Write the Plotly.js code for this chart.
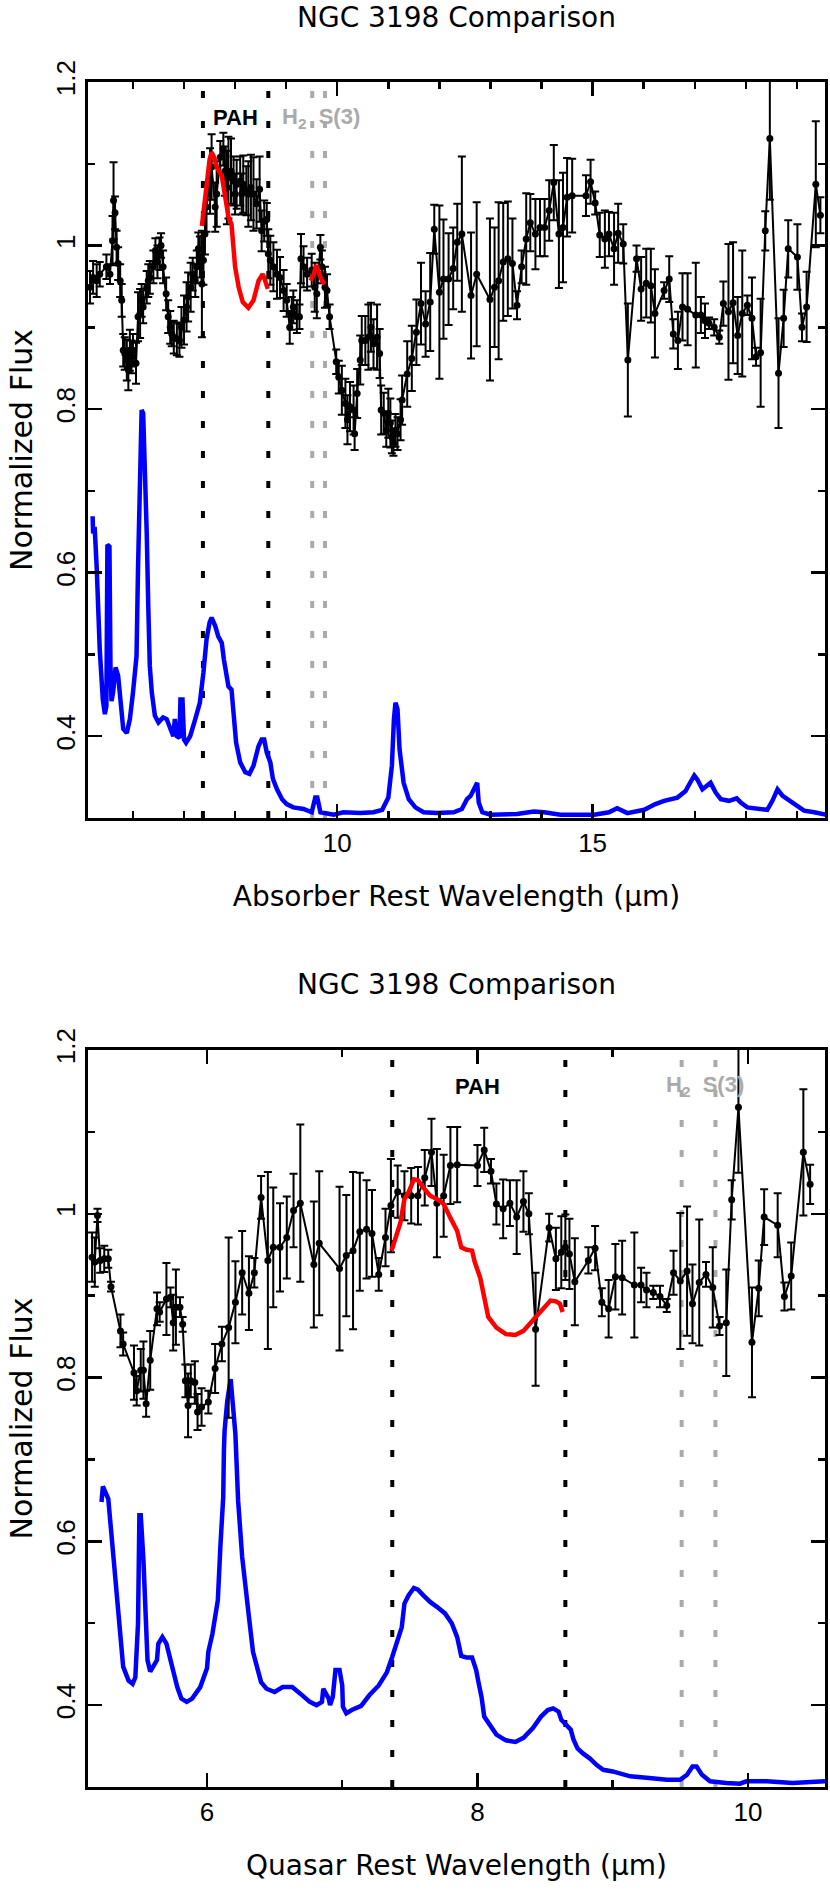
<!DOCTYPE html>
<html>
<head>
<meta charset="utf-8">
<script src="https://cdn.plot.ly/plotly-3.0.1.min.js"></script>
<style>html,body{margin:0;padding:0;background:#fff;}#chart{width:830px;height:1891px;}</style>
</head>
<body>
<div id="chart"></div>
<script>
// ---------- Top panel: absorber rest frame ----------
var absWave = [5.16,5.22,5.29,5.35,5.48,5.55,5.60,5.62,5.65,5.68,5.71,5.75,5.78,5.81,5.84,5.88,5.91,5.94,5.97,6.00,6.06,6.10,6.14,6.17,6.20,6.27,6.30,6.33,6.40,6.44,6.48,6.52,6.55,6.59,6.65,6.69,6.73,6.76,6.80,6.86,6.91,6.95,7.00,7.05,7.08,7.13,7.17,7.22,7.25,7.28,7.31,7.35,7.38,7.41,7.44,7.51,7.54,7.61,7.64,7.71,7.77,7.80,7.84,7.87,7.92,7.97,8.00,8.03,8.10,8.13,8.16,8.22,8.26,8.31,8.36,8.42,8.48,8.52,8.57,8.62,8.65,8.69,8.75,8.82,8.88,8.95,9.01,9.07,9.11,9.14,9.21,9.26,9.29,9.34,9.41,9.50,9.56,9.60,9.67,9.70,9.76,9.80,9.85,9.98,10.03,10.09,10.16,10.20,10.25,10.32,10.34,10.39,10.45,10.48,10.55,10.61,10.66,10.71,10.78,10.83,10.86,10.91,10.96,11.00,11.04,11.07,11.10,11.14,11.18,11.24,11.27,11.37,11.46,11.55,11.64,11.73,11.82,11.90,12.00,12.08,12.18,12.27,12.35,12.44,12.62,12.73,12.99,13.08,13.16,13.25,13.34,13.43,13.52,13.61,13.70,13.78,13.88,13.97,14.06,14.15,14.24,14.34,14.42,14.50,14.60,14.87,14.96,15.05,15.14,15.24,15.32,15.42,15.50,15.60,15.69,15.86,15.95,16.05,16.14,16.22,16.40,16.50,16.58,16.67,16.76,16.86,17.02,17.12,17.20,17.28,17.38,17.48,17.56,17.66,17.75,17.84,17.93,18.03,18.12,18.20,18.29,18.38,18.47,18.64,18.74,18.83,19.01,19.10,19.19,19.37,19.46];
var absFlux = [0.949,0.961,0.957,0.965,0.974,0.965,1.006,1.055,1.040,0.998,0.978,0.957,0.933,0.872,0.868,0.860,0.848,0.872,0.864,0.872,0.856,0.913,0.917,0.933,0.925,0.949,0.957,0.961,0.974,0.994,0.980,0.990,1.000,0.974,0.941,0.913,0.900,0.892,0.888,0.886,0.884,0.900,0.909,0.925,0.937,0.949,0.965,0.957,0.974,0.996,0.986,0.953,0.982,1.014,1.047,1.079,1.096,1.047,1.063,1.108,1.118,1.091,1.071,1.083,1.091,1.079,1.063,1.075,1.079,1.063,1.075,1.067,1.063,1.071,1.063,1.051,1.069,1.018,1.030,1.032,0.990,0.982,0.974,0.965,0.961,0.945,0.933,0.900,0.917,0.925,0.913,0.913,0.984,0.974,0.965,0.970,0.949,0.941,0.998,0.974,0.949,0.945,0.913,0.858,0.839,0.823,0.807,0.787,0.803,0.799,0.770,0.819,0.860,0.884,0.884,0.888,0.900,0.880,0.888,0.868,0.799,0.795,0.774,0.795,0.783,0.766,0.758,0.774,0.770,0.787,0.811,0.843,0.862,0.894,0.929,0.904,0.931,1.020,0.943,0.959,0.959,0.972,1.004,1.014,0.939,0.965,0.934,0.949,0.957,0.980,0.984,0.978,0.927,0.974,1.008,1.028,1.014,1.022,1.022,1.043,1.077,1.014,1.022,1.059,1.061,1.061,1.078,1.052,1.013,1.008,1.014,0.996,1.015,1.002,0.860,0.984,0.947,0.954,0.951,0.917,0.945,0.959,0.892,0.884,0.925,0.922,0.915,0.915,0.908,0.905,0.900,0.888,0.929,0.919,0.930,0.890,0.917,0.927,0.911,0.864,0.869,1.018,1.131,0.844,0.911,0.996,0.986,0.900,0.925,1.075,1.037];
var absErr = [0.02,0.02,0.02,0.015,0.015,0.012,0.03,0.047,0.02,0.02,0.02,0.02,0.02,0.02,0.02,0.025,0.025,0.025,0.02,0.02,0.025,0.03,0.03,0.02,0.02,0.02,0.02,0.02,0.02,0.015,0.02,0.02,0.015,0.02,0.02,0.02,0.02,0.015,0.02,0.02,0.02,0.025,0.03,0.03,0.03,0.03,0.02,0.02,0.02,0.02,0.025,0.065,0.03,0.025,0.03,0.04,0.04,0.03,0.04,0.02,0.02,0.03,0.045,0.05,0.04,0.03,0.025,0.03,0.03,0.025,0.035,0.03,0.04,0.04,0.045,0.03,0.04,0.025,0.025,0.02,0.03,0.03,0.03,0.03,0.025,0.025,0.02,0.02,0.02,0.02,0.02,0.015,0.03,0.025,0.02,0.02,0.03,0.03,0.015,0.02,0.025,0.02,0.015,0.015,0.02,0.03,0.03,0.03,0.03,0.03,0.02,0.03,0.03,0.03,0.03,0.04,0.03,0.03,0.04,0.03,0.03,0.025,0.02,0.03,0.03,0.02,0.015,0.02,0.02,0.025,0.03,0.04,0.04,0.04,0.05,0.04,0.06,0.03,0.106,0.073,0.056,0.05,0.047,0.095,0.077,0.088,0.099,0.073,0.096,0.072,0.07,0.055,0.017,0.02,0.056,0.035,0.043,0.035,0.035,0.037,0.046,0.066,0.067,0.048,0.045,0.025,0.027,0.014,0.027,0.035,0.027,0.044,0.036,0.024,0.069,0.016,0.039,0.042,0.045,0.054,0.01,0.028,0.018,0.035,0.041,0.044,0.064,0.022,0.021,0.007,0.01,0.008,0.027,0.083,0.074,0.047,0.077,0.012,0.05,0.011,0.066,0.024,0.075,0.067,0.035,0.035,0.04,0.017,0.043,0.077,0.022];

var absFitWave = [7.35,7.40,7.45,7.50,7.54,7.59,7.64,7.69,7.74,7.80,7.87,7.93,7.97,8.00,8.07,8.15,8.26,8.36,8.46,8.54,8.59,8.64,null,9.48,9.54,9.59,9.65,9.70,9.76];
var absFitFlux = [1.024,1.055,1.085,1.105,1.114,1.108,1.096,1.090,1.085,1.062,1.035,1.026,0.998,0.974,0.949,0.931,0.924,0.933,0.957,0.965,0.957,0.947,null,0.957,0.965,0.976,0.965,0.957,0.953];

var tplAbsWave = [5.21,5.22,5.25,5.29,5.35,5.41,5.45,5.48,5.50,5.54,5.56,5.58,5.61,5.66,5.71,5.75,5.81,5.88,5.94,6.00,6.07,6.10,6.14,6.17,6.20,6.24,6.27,6.30,6.33,6.37,6.43,6.50,6.59,6.66,6.73,6.79,6.82,6.86,6.91,6.93,6.97,7.00,7.04,7.12,7.22,7.31,7.38,7.44,7.50,7.54,7.61,7.67,7.74,7.78,7.87,7.93,7.98,8.02,8.10,8.20,8.28,8.36,8.46,8.52,8.57,8.62,8.69,8.74,8.82,8.92,9.01,9.14,9.34,9.50,9.57,9.61,9.67,9.80,9.93,10.12,10.45,10.71,10.88,11.00,11.07,11.11,11.14,11.18,11.22,11.30,11.40,11.53,11.69,11.95,12.28,12.44,12.54,12.61,12.69,12.74,12.77,12.84,13.00,13.52,13.85,14.05,14.37,15.03,15.32,15.48,15.68,16.01,16.23,16.40,16.66,16.82,16.89,16.99,17.05,17.15,17.31,17.41,17.51,17.67,17.82,17.90,18.03,18.26,18.42,18.52,18.62,18.72,18.85,19.01,19.14,19.34,19.57];
var tplAbsFlux = [0.669,0.648,0.656,0.607,0.506,0.445,0.427,0.437,0.634,0.632,0.486,0.443,0.453,0.484,0.474,0.445,0.409,0.404,0.421,0.453,0.498,0.607,0.717,0.799,0.795,0.730,0.648,0.559,0.486,0.453,0.425,0.417,0.423,0.421,0.409,0.400,0.421,0.400,0.398,0.445,0.445,0.396,0.392,0.400,0.421,0.441,0.478,0.518,0.539,0.545,0.535,0.522,0.514,0.494,0.461,0.457,0.421,0.392,0.368,0.356,0.354,0.364,0.388,0.396,0.396,0.380,0.368,0.348,0.335,0.323,0.317,0.313,0.311,0.307,0.325,0.325,0.307,0.305,0.304,0.307,0.306,0.307,0.310,0.325,0.364,0.421,0.441,0.433,0.384,0.343,0.323,0.313,0.307,0.306,0.307,0.311,0.323,0.327,0.339,0.343,0.319,0.307,0.304,0.305,0.308,0.307,0.304,0.304,0.307,0.312,0.306,0.310,0.317,0.321,0.325,0.333,0.341,0.352,0.347,0.335,0.343,0.331,0.323,0.321,0.324,0.319,0.313,0.311,0.310,0.321,0.335,0.327,0.321,0.315,0.309,0.307,0.304];

// ---------- Bottom panel: quasar rest frame ----------
var qsoWave = [5.15,5.17,5.19,5.21,5.24,5.27,5.29,5.36,5.38,5.46,5.48,5.51,5.53,5.55,5.58,5.63,5.65,5.70,5.73,5.75,5.77,5.80,5.82,5.84,5.86,5.88,5.91,5.93,5.96,6.01,6.06,6.11,6.16,6.21,6.26,6.31,6.35,6.40,6.45,6.49,6.54,6.59,6.64,6.69,6.79,6.83,6.98,7.03,7.08,7.13,7.18,7.22,7.27,7.32,7.36,7.41,7.46,7.51,7.56,7.61,7.66,7.70,7.75,7.80,7.85,8.00,8.05,8.10,8.14,8.19,8.24,8.29,8.34,8.38,8.43,8.53,8.58,8.62,8.65,8.68,8.72,8.82,8.87,8.92,8.97,9.02,9.07,9.16,9.21,9.25,9.30,9.35,9.40,9.45,9.50,9.55,9.59,9.64,9.69,9.74,9.79,9.84,9.88,9.93,10.03,10.08,10.12,10.22,10.27,10.32,10.41,10.46];
var qsoFlux = [0.947,0.941,0.998,0.943,0.945,0.945,0.911,0.857,0.841,0.806,0.784,0.809,0.809,0.768,0.821,0.884,0.880,0.896,0.898,0.867,0.886,0.886,0.865,0.796,0.766,0.796,0.794,0.758,0.764,0.770,0.811,0.841,0.861,0.892,0.928,0.903,0.928,1.020,0.943,0.959,0.959,0.971,1.004,1.013,0.938,0.964,0.933,0.949,0.955,0.978,0.981,0.976,0.926,0.971,1.010,1.027,1.022,1.022,1.022,1.044,1.075,1.013,1.022,1.059,1.060,1.059,1.078,1.052,1.012,1.006,1.013,0.996,1.015,1.000,0.859,0.983,0.945,0.953,0.959,0.951,0.917,0.943,0.958,0.892,0.884,0.923,0.922,0.913,0.913,0.907,0.904,0.899,0.888,0.928,0.918,0.930,0.890,0.916,0.926,0.910,0.863,0.867,1.017,1.130,0.843,0.909,0.996,0.986,0.899,0.924,1.075,1.036];
var qsoErr = [0.03,0.03,0.008,0.015,0.016,0.011,0.006,0.02,0.014,0.033,0.018,0.026,0.035,0.016,0.036,0.02,0.012,0.044,0.012,0.034,0.046,0.012,0.009,0.02,0.039,0.02,0.026,0.022,0.023,0.014,0.03,0.021,0.11,0.05,0.051,0.045,0.018,0.026,0.108,0.073,0.054,0.05,0.045,0.096,0.077,0.088,0.1,0.074,0.096,0.072,0.06,0.053,0.02,0.035,0.057,0.032,0.03,0.034,0.035,0.034,0.041,0.066,0.05,0.047,0.046,0.025,0.027,0.015,0.025,0.036,0.028,0.045,0.037,0.025,0.069,0.017,0.038,0.044,0.04,0.043,0.053,0.016,0.027,0.017,0.035,0.04,0.045,0.064,0.021,0.021,0.008,0.013,0.008,0.027,0.083,0.079,0.048,0.077,0.015,0.049,0.011,0.065,0.024,0.08,0.067,0.034,0.034,0.039,0.017,0.041,0.077,0.024];

var qsoFitWave = [7.365,7.39,7.43,7.46,7.49,7.53,7.56,7.60,7.65,7.70,7.75,7.80,7.85,7.88,7.92,7.96,7.98,8.02,8.03,8.06,8.08,8.14,8.21,8.28,8.34,8.41,8.49,8.54,8.58,8.61,8.63];
var qsoFitFlux = [0.955,0.969,0.989,1.018,1.026,1.042,1.041,1.032,1.022,1.018,1.012,0.995,0.979,0.959,0.956,0.955,0.941,0.922,0.914,0.886,0.874,0.861,0.853,0.852,0.857,0.870,0.886,0.894,0.893,0.890,0.880];

var tplQsoWave = [5.22,5.23,5.27,5.31,5.34,5.38,5.42,5.45,5.47,5.49,5.50,5.51,5.53,5.55,5.56,5.58,5.63,5.64,5.67,5.70,5.74,5.78,5.81,5.85,5.89,5.95,6.00,6.01,6.04,6.06,6.08,6.10,6.12,6.125,6.13,6.15,6.175,6.21,6.23,6.26,6.28,6.31,6.34,6.37,6.40,6.44,6.50,6.56,6.63,6.69,6.76,6.81,6.85,6.86,6.90,6.91,6.93,6.95,6.98,7.00,7.005,7.03,7.07,7.14,7.20,7.27,7.33,7.37,7.40,7.44,7.46,7.49,7.53,7.56,7.60,7.65,7.70,7.76,7.81,7.85,7.88,7.92,7.96,7.99,8.01,8.03,8.05,8.08,8.14,8.21,8.28,8.34,8.41,8.47,8.52,8.56,8.60,8.62,8.66,8.69,8.71,8.74,8.78,8.83,8.88,8.93,9.00,9.13,9.27,9.40,9.50,9.55,9.59,9.62,9.66,9.72,9.84,9.94,9.99,10.14,10.33,10.57];
var tplQsoFlux = [0.648,0.667,0.652,0.577,0.508,0.447,0.430,0.426,0.434,0.500,0.632,0.632,0.577,0.487,0.455,0.441,0.455,0.475,0.483,0.475,0.447,0.422,0.408,0.404,0.408,0.422,0.445,0.465,0.487,0.512,0.528,0.597,0.654,0.711,0.735,0.772,0.798,0.731,0.650,0.581,0.548,0.508,0.465,0.447,0.428,0.420,0.416,0.422,0.422,0.414,0.404,0.400,0.404,0.420,0.408,0.400,0.410,0.443,0.443,0.424,0.398,0.390,0.394,0.399,0.412,0.424,0.440,0.459,0.475,0.495,0.524,0.534,0.543,0.541,0.534,0.526,0.520,0.512,0.500,0.483,0.460,0.458,0.458,0.443,0.426,0.410,0.386,0.378,0.364,0.357,0.355,0.360,0.372,0.386,0.394,0.396,0.392,0.382,0.376,0.370,0.358,0.347,0.341,0.335,0.327,0.321,0.319,0.313,0.311,0.309,0.309,0.315,0.325,0.325,0.315,0.307,0.305,0.304,0.307,0.307,0.305,0.307];

// feature markers (wavelengths in micron)
var pahLines = [7.37, 8.65];
var h2Lines = [9.51, 9.76];
var panelTitle = 'NGC 3198 Comparison';
var yTicks = [0.4, 0.6, 0.8, 1, 1.2];

// ---------- build ----------
var FONT = 'Liberation Sans, Arial, sans-serif';
var TFONT = 'DejaVu Sans, sans-serif';

function dataTrace(x, y, e, xa, ya) {
  return {x: x, y: y, xaxis: xa, yaxis: ya, type: 'scatter', mode: 'lines+markers',
    line: {color: '#000', width: 2}, marker: {color: '#000', size: 7},
    error_y: {type: 'data', array: e, visible: true, color: '#000', thickness: 2, width: 4},
    showlegend: false, hoverinfo: 'x+y'};
}
function lineTrace(x, y, color, xa, ya) {
  return {x: x, y: y, xaxis: xa, yaxis: ya, type: 'scatter', mode: 'lines',
    line: {color: color, width: 4.5}, connectgaps: false, showlegend: false};
}

var traces = [
  lineTrace(tplAbsWave, tplAbsFlux, '#0000ff', 'x', 'y'),
  dataTrace(absWave, absFlux, absErr, 'x', 'y'),
  lineTrace(absFitWave, absFitFlux, '#ff0000', 'x', 'y'),
  lineTrace(tplQsoWave, tplQsoFlux, '#0000ff', 'x2', 'y2'),
  dataTrace(qsoWave, qsoFlux, qsoErr, 'x2', 'y2'),
  lineTrace(qsoFitWave, qsoFitFlux, '#ff0000', 'x2', 'y2')
];

var shapes = [];
[['x', 'y'], ['x2', 'y2']].forEach(function (ax) {
  pahLines.forEach(function (w) {
    shapes.push({type: 'line', xref: ax[0], yref: ax[1] + ' domain', x0: w, x1: w, y0: 0, y1: 1,
      line: {color: '#000', width: 4, dash: '7px,23px'}, layer: 'below'});
  });
  h2Lines.forEach(function (w) {
    shapes.push({type: 'line', xref: ax[0], yref: ax[1] + ' domain', x0: w, x1: w, y0: 0, y1: 1,
      line: {color: '#aaaaaa', width: 4, dash: '7px,23px'}, layer: 'below'});
  });
});

function xAxis(range, dtick, title, anchor) {
  return {range: range, domain: [0, 1], anchor: anchor, dtick: dtick, tick0: 0,
    ticks: 'inside', ticklen: 14, tickwidth: 2.5, tickcolor: '#000',
    minor: {dtick: 1, ticks: 'inside', ticklen: 7, tickwidth: 2.5, tickcolor: '#000', showgrid: false},
    showline: true, linewidth: 3, linecolor: '#000', mirror: 'allticks',
    showgrid: false, zeroline: false,
    tickfont: {family: FONT, size: 26, color: '#000'},
    title: {text: title, font: {family: TFONT, size: 28, color: '#000'}, standoff: 30}};
}
function yAxis(domain, anchor) {
  return {range: [0.3, 1.2], domain: domain, anchor: anchor, tickvals: yTicks, ticktext: yTicks.map(String),
    ticks: 'inside', ticklen: 14, tickwidth: 2.5, tickcolor: '#000', tickangle: -90,
    minor: {dtick: 0.1, ticks: 'inside', ticklen: 7, tickwidth: 2.5, tickcolor: '#000', showgrid: false},
    showline: true, linewidth: 3, linecolor: '#000', mirror: 'allticks',
    showgrid: false, zeroline: false,
    tickfont: {family: FONT, size: 26, color: '#000'},
    title: {text: 'Normalized Flux', font: {family: TFONT, size: 30, color: '#000'}, standoff: 10}};
}

var H = 1891, T = 82, B = 104;
var plotH = H - T - B;
function py(px) { return (H - B - px) / plotH; }

var layout = {
  width: 830, height: 1891,
  margin: {l: 88, r: 5, t: T, b: B},
  paper_bgcolor: '#fff', plot_bgcolor: '#fff',
  showlegend: false,
  xaxis: xAxis([5.12, 19.55], 5, 'Absorber Rest Wavelength (\u03bcm)', 'y'),
  yaxis: yAxis([py(818), 1], 'x'),
  xaxis2: xAxis([5.12, 10.57], 2, 'Quasar Rest Wavelength (\u03bcm)', 'y2'),
  yaxis2: yAxis([0, py(1050)], 'x2'),
  shapes: shapes,
  annotations: [
    {text: panelTitle, xref: 'paper', yref: 'paper', x: 0.5, y: py(17), xanchor: 'center', yanchor: 'middle',
      showarrow: false, font: {family: TFONT, size: 28, color: '#000'}},
    {text: panelTitle, xref: 'paper', yref: 'paper', x: 0.5, y: py(985), xanchor: 'center', yanchor: 'middle',
      showarrow: false, font: {family: TFONT, size: 28, color: '#000'}},
    {text: '<b>PAH</b>', xref: 'x', yref: 'y', x: 8.0, y: 1.156, showarrow: false,
      font: {family: FONT, size: 22, color: '#000'}},
    {text: '<b>H<sub>2</sub>  S(3)</b>', xref: 'x', yref: 'y', x: 9.69, y: 1.156, showarrow: false,
      font: {family: FONT, size: 22, color: '#aaaaaa'}},
    {text: '<b>PAH</b>', xref: 'x2', yref: 'y2', x: 8.0, y: 1.156, showarrow: false,
      font: {family: FONT, size: 22, color: '#000'}},
    {text: '<b>H<sub>2</sub>  S(3)</b>', xref: 'x2', yref: 'y2', x: 9.68, y: 1.156, showarrow: false,
      font: {family: FONT, size: 22, color: '#aaaaaa'}}
  ]
};

Plotly.newPlot('chart', traces, layout, {staticPlot: true, displayModeBar: false});
</script>
</body>
</html>
